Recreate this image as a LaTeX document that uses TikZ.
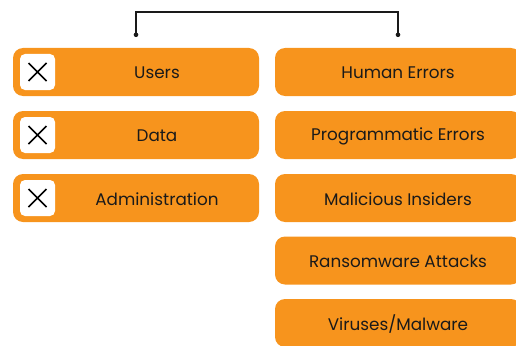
\documentclass[tikz,border=0pt]{standalone}
\usepackage{fontspec}
\setmainfont{Poppins}
\definecolor{boxorange}{HTML}{F7941D}
\definecolor{inkdark}{HTML}{1A1A1A}
\begin{document}
\begin{tikzpicture}[x=1pt,y=-1pt,
  riskbox/.style={rectangle, rounded corners=10pt, fill=boxorange, minimum width=246pt, minimum height=48pt, inner sep=0pt},
  crossbox/.style={rectangle, rounded corners=5pt, fill=white, minimum width=35pt, minimum height=36pt, inner sep=0pt},
  crossmark/.style={draw=black, line width=1.5pt},
  boxtext/.style={text=inkdark, font=\fontsize{16.8}{20}\selectfont, inner sep=0pt},
  conn/.style={draw=inkdark, line width=1.5pt}]
\useasboundingbox (0,0) rectangle (516,345);
\clip (0,0) rectangle (516,345);
% left column
\node[riskbox] (users) at (136,72) {};
\node[riskbox] (data) at (136,135) {};
\node[riskbox] (admin) at (136,198) {};
\node[crossbox] (usersx) at (37.5,72) {};
\node[crossbox] (datax) at (37.5,135) {};
\node[crossbox] (adminx) at (37.5,198) {};
\draw[crossmark] (usersx) +(-9,-9) -- +(9,9) +(-9,9) -- +(9,-9);
\draw[crossmark] (datax) +(-9,-9) -- +(9,9) +(-9,9) -- +(9,-9);
\draw[crossmark] (adminx) +(-9,-9) -- +(9,9) +(-9,9) -- +(9,-9);
\node[boxtext] (userst) at (157,73) {Users};
\node[boxtext] (datat) at (157,136) {Data};
\node[boxtext] (admint) at (157,199) {Administration};
% right column
\node[riskbox] (human) at (398,72) {};
\node[riskbox] (prog) at (398,135) {};
\node[riskbox] (insider) at (398,198) {};
\node[riskbox] (ransom) at (398,260.5) {};
\node[riskbox] (virus) at (398,323) {};
\node[boxtext] (humant) at (398,73) {Human Errors};
\node[boxtext] (progt) at (398,136) {Programmatic Errors};
\node[boxtext] (insidert) at (398,199) {Malicious Insiders};
\node[boxtext] (ransomt) at (398,261.5) {Ransomware Attacks};
\node[boxtext] (virust) at (398,324) {Viruses/Malware};
% bracket on top
\coordinate (ldot) at ([yshift=13pt]users.north);
\coordinate (rdot) at ([yshift=13pt]human.north);
\draw[conn] (ldot) -- ++(0,-23) -| (rdot);
\fill[inkdark] (ldot) circle (2.3pt);
\fill[inkdark] (rdot) circle (2.3pt);
\end{tikzpicture}
\end{document}
